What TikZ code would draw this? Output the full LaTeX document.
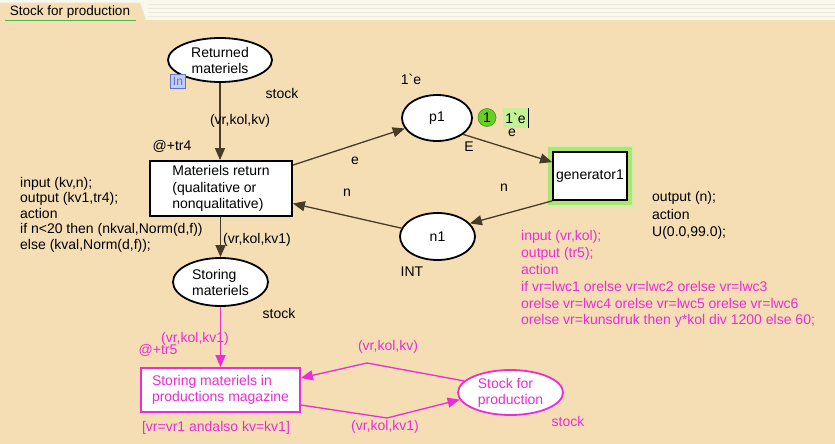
\documentclass[tikz,border=0pt]{standalone}
\usepackage{fontspec}
\setmainfont{Liberation Sans}
\usetikzlibrary{shapes.geometric,arrows.meta}
\definecolor{bg}{RGB}{245,222,180}
\definecolor{stripbg}{RGB}{250,248,238}
\definecolor{stripline}{RGB}{236,234,222}
\definecolor{linec}{RGB}{70,60,40}
\definecolor{pinkc}{RGB}{235,45,215}
\definecolor{glow}{RGB}{175,228,115}
\definecolor{tokgreen}{RGB}{105,205,40}
\definecolor{tokbox}{RGB}{195,242,150}
\definecolor{tagfill}{RGB}{195,205,245}
\definecolor{tagdraw}{RGB}{95,115,215}
\begin{document}
\begin{tikzpicture}[x=1pt,y=-1pt,
  font=\fontsize{14}{16}\selectfont,
  place/.style={ellipse, draw=black, line width=1.8pt, fill=white, inner sep=0pt},
  trans/.style={rectangle, draw=black, line width=1.8pt, fill=white, inner sep=0pt},
  pplace/.style={place, draw=pinkc, text=pinkc},
  ptrans/.style={trans, draw=pinkc, text=pinkc},
  arc/.style={draw=linec, line width=1.3pt, -{Triangle[length=12pt,width=10pt]}},
  parc/.style={arc, draw=pinkc},
  lbl/.style={inner sep=0pt},
  plbl/.style={lbl, text=pinkc},
  block/.style={lbl, anchor=north west, align=left}]
\useasboundingbox (0,0) rectangle (835,444);
\fill[bg] (0,0) rectangle (835,444);

% page tab strip
\fill[stripbg] (0,0) rectangle (835,20);
\foreach \yy in {4,8,12,16} \draw[stripline, line width=0.8pt] (148,\yy) -- (835,\yy);
\fill[bg] (0,3) -- (140,3) -- (146,20) -- (0,20) -- cycle;
\draw[stripline, line width=0.8pt] (0,3) -- (140,3) -- (146,20);
\node[lbl, font=\fontsize{13.5}{15}\selectfont] (tab) at (70,12) {Stock for production};
\draw[green!60!black!70, line width=1pt] (5,21) -- (136,21);

% places
\node[place, minimum width=104pt, minimum height=44pt, align=center] (ret) at (220,60)
  {Returned\\materiels};
\node[place, minimum width=95pt, minimum height=48pt, align=left] (stor) at (220.5,282)
  {Storing\\materiels};
\node[place, minimum width=70pt, minimum height=46pt] (p1) at (437,118) {p1};
\node[place, minimum width=75pt, minimum height=47pt] (n1) at (437.5,236.5) {n1};
\node[pplace, minimum width=105pt, minimum height=45pt, align=left] (sfp) at (510.5,392.5)
  {Stock for\\production};

% transitions
\node[trans, minimum width=142pt, minimum height=55pt, align=left,
  font=\fontsize{14}{16.5}\selectfont] (mret) at (221,188.5)
  {Materiels return\\(qualitative or\\nonqualitative)};
\node[ptrans, minimum width=159pt, minimum height=44pt, align=left] (sbox) at (220.5,390)
  {Storing materiels in\\productions magazine};
\draw[glow!60, line width=7pt] (550,149) rectangle (630,203);
\draw[glow, line width=4pt] (550,149) rectangle (630,203);
\node[trans, minimum width=74pt, minimum height=48pt] (gen) at (590,176) {generator1};

% input port tag
\node[draw=tagdraw, fill=tagfill, line width=0.9pt, minimum width=15pt, minimum height=14pt,
  inner sep=0pt, text=tagdraw, font=\fontsize{12}{13}\selectfont] (tag) at (178,81.5) {In};

% token marking of p1
\node[circle, fill=tokgreen, draw=tokgreen!70!black, line width=0.6pt, minimum size=18pt,
  inner sep=0pt] (tok) at (487,117.5) {1};
\node[fill=tokbox, minimum width=25pt, minimum height=20pt, inner sep=0pt] (mark) at (515.5,118) {1\textasciigrave e};
\draw[black, line width=1pt] (mark.north east) -- (mark.south east);

% arcs
\coordinate (c1) at (367,363);
\coordinate (c2) at (387,418);
\draw[arc] (ret.south) -- (ret.south |- mret.north);
\draw[arc] (mret.south -| stor.north) -- (stor.north);
\draw[parc] (stor.south) -- (stor.south |- sbox.north);
\draw[arc] ([yshift=-5pt]mret.north east) -- (p1.198);
\draw[arc] (p1.-32) -- ([yshift=-11pt]gen.north west);
\draw[arc] (gen.south west) -- (n1.22);
\draw[arc] (n1.167) -- ([yshift=-15pt]mret.east);
\draw[parc] (sfp.166) -- (c1) -- ([yshift=12pt]sbox.east);
\draw[parc] ([yshift=-15pt]sbox.east) -- (c2) -- (sfp.188);

% inscriptions
\node[lbl] (t1) at (282,93) {stock};
\node[lbl] (t2) at (240,121) {(vr,kol,kv)};
\node[lbl] (t3) at (172,146) {@+tr4};
\node[block, font=\fontsize{14}{15.5}\selectfont] (code1) at (20,177)
  {input (kv,n);\\output (kv1,tr4);\\action\\if n<20 then (nkval,Norm(d,f))\\else (kval,Norm(d,f));};
\node[lbl] (t4) at (257,240) {(vr,kol,kv1)};
\node[lbl] (t5) at (279,313) {stock};
\node[lbl] (t6) at (411,79) {1\textasciigrave e};
\node[lbl] (t7) at (512,133) {e};
\node[lbl] (t8) at (469,147) {E};
\node[lbl] (t9) at (355,161) {e};
\node[lbl] (t10) at (504,188) {n};
\node[lbl] (t11) at (347,193) {n};
\node[lbl] (t12) at (412,272) {INT};
\node[block, font=\fontsize{14}{17.5}\selectfont] (code2) at (652,191.5)
  {output (n);\\action\\U(0.0,99.0);};
\node[block, text=pinkc, font=\fontsize{14}{16.8}\selectfont] (code3) at (521,230.5)
  {input (vr,kol);\\output (tr5);\\action\\if vr=lwc1 orelse vr=lwc2 orelse vr=lwc3\\orelse vr=lwc4 orelse vr=lwc5 orelse vr=lwc6\\orelse vr=kunsdruk then y*kol div 1200 else 60;};
\node[plbl] (t13) at (195,339) {(vr,kol,kv1)};
\node[plbl] (t14) at (158,350) {@+tr5};
\node[plbl] (t15) at (216,428) {[vr=vr1 andalso kv=kv1]};
\node[plbl] (t16) at (388,347) {(vr,kol,kv)};
\node[plbl] (t17) at (385,427) {(vr,kol,kv1)};
\node[plbl] (t18) at (568,421) {stock};
\end{tikzpicture}
\end{document}
